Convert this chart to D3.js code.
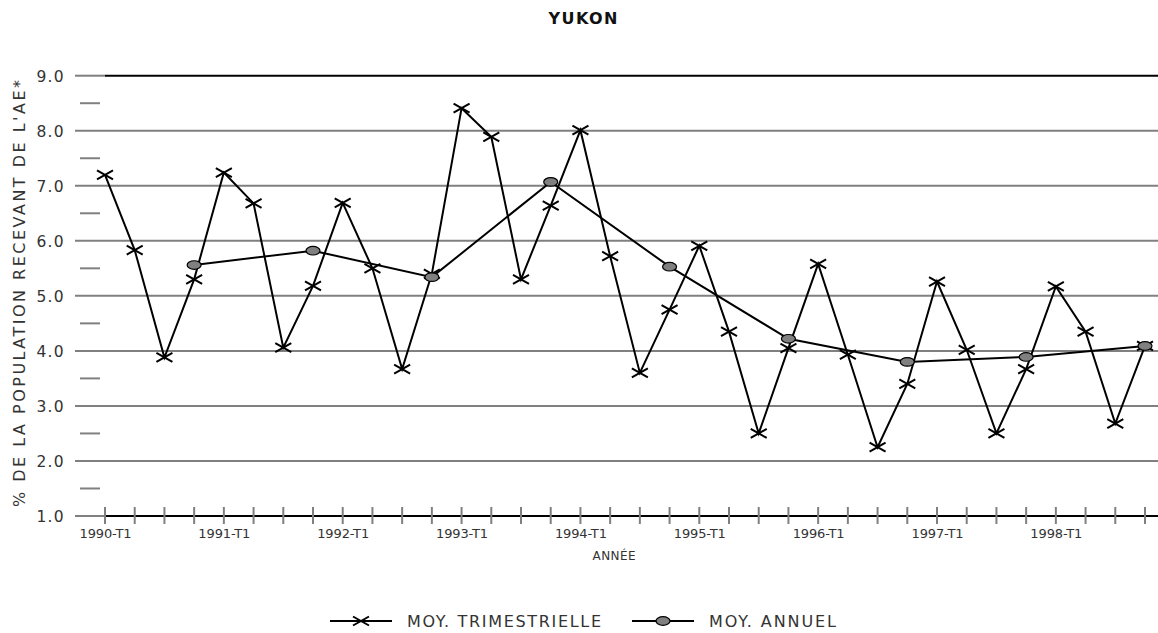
<!DOCTYPE html>
<html>
<head>
<meta charset="utf-8">
<script src="https://cdn.jsdelivr.net/npm/d3@7"></script>
<style>
  body { margin: 0; background: #fff; }
  svg text { font-family: "DejaVu Sans", Verdana, sans-serif; fill: #333; }
</style>
</head>
<body>
<script>
// data
const years = [1990, 1991, 1992, 1993, 1994, 1995, 1996, 1997, 1998]
const quarterNames = ["T1", "T2", "T3", "T4"]
const quarterly = [
  7.20, 5.83, 3.88, 5.30,
  7.24, 6.68, 4.06, 5.18,
  6.69, 5.50, 3.67, 5.40,
  8.41, 7.89, 5.30, 6.64,
  8.01, 5.72, 3.60, 4.75,
  5.91, 4.35, 2.50, 4.05,
  5.58, 3.93, 2.25, 3.40,
  5.26, 4.02, 2.50, 3.67,
  5.17, 4.35, 2.68, 4.09
]
const annual = [5.56, 5.82, 5.34, 7.07, 5.53, 4.22, 3.80, 3.89, 4.09]
const majorTicks = [1, 2, 3, 4, 5, 6, 7, 8, 9]
const minorTicks = [1.5, 2.5, 3.5, 4.5, 5.5, 6.5, 7.5, 8.5]
const legendLabels = ["MOY. TRIMESTRIELLE", "MOY. ANNUEL"]

const quarters = years.flatMap(yr => quarterNames.map(q => yr + "-" + q))

const width = 1158, height = 633
const left = 105, right = 1145, axisStart = 75, gridEnd = 1158

const svg = d3.select("body").append("svg")
  .attr("width", width)
  .attr("height", height)

const x = d3.scalePoint().domain(quarters).range([left, right])
const y = d3.scaleLinear().domain([1, 9]).range([516, 75.7])

// title
svg.append("text")
  .attr("x", 583).attr("y", 24)
  .attr("text-anchor", "middle")
  .attr("textLength", 69).attr("lengthAdjust", "spacing")
  .style("font-size", "16px")
  .style("font-weight", "bold")
  .style("fill", "#111")
  .text("YUKON")

// gridlines
svg.append("g").selectAll("line")
  .data(majorTicks.filter(d => d > 1 && d < 9))
  .enter().append("line")
  .attr("x1", axisStart).attr("x2", gridEnd)
  .attr("y1", d => y(d)).attr("y2", d => y(d))
  .attr("stroke", "#808080").attr("stroke-width", 2)

// short gray stubs for the top and bottom lines
svg.append("g").selectAll("line")
  .data([1, 9])
  .enter().append("line")
  .attr("x1", axisStart).attr("x2", left)
  .attr("y1", d => y(d)).attr("y2", d => y(d))
  .attr("stroke", "#808080").attr("stroke-width", 2)

// minor dashes
svg.append("g").selectAll("line")
  .data(minorTicks)
  .enter().append("line")
  .attr("x1", 80).attr("x2", 100)
  .attr("y1", d => y(d)).attr("y2", d => y(d))
  .attr("stroke", "#808080").attr("stroke-width", 2)

// black top and bottom lines
svg.append("g").selectAll("line")
  .data([1, 9])
  .enter().append("line")
  .attr("x1", left).attr("x2", gridEnd)
  .attr("y1", d => y(d)).attr("y2", d => y(d))
  .attr("stroke", "#000").attr("stroke-width", 2)

// x tick marks
svg.append("g").selectAll("line")
  .data(quarters)
  .enter().append("line")
  .attr("x1", d => x(d)).attr("x2", d => x(d))
  .attr("y1", y(1) - 9).attr("y2", y(1) + 8)
  .attr("stroke", "#808080").attr("stroke-width", 2)

// y axis labels
const yAxis = svg.append("g")
  .attr("transform", `translate(63.5,0)`)
  .call(d3.axisLeft(y).tickValues(majorTicks).tickFormat(d3.format(".1f")).tickSize(0).tickPadding(0))
yAxis.select(".domain").remove()
yAxis.selectAll("text")
  .attr("textLength", 27).attr("lengthAdjust", "spacing")
  .style("font-size", "15.5px")
  .style("fill", "#333")
  .attr("dy", "0.36em")

// x axis labels (T1 only)
const xAxis = svg.append("g")
  .attr("transform", `translate(0,${y(1)})`)
  .call(d3.axisBottom(x).tickValues(quarters.filter(q => q.endsWith("T1"))).tickSize(0).tickPadding(13))
xAxis.select(".domain").remove()
xAxis.selectAll("text")
  .attr("textLength", 52).attr("lengthAdjust", "spacing")
  .style("font-size", "13px")
  .style("fill", "#333")

svg.append("text")
  .attr("x", 614).attr("y", 560)
  .attr("text-anchor", "middle")
  .attr("textLength", 43).attr("lengthAdjust", "spacing")
  .style("font-size", "12px")
  .text("ANNÉE")

svg.append("text")
  .attr("transform", `translate(24.5,293.5) rotate(-90)`)
  .attr("text-anchor", "middle")
  .attr("textLength", 427).attr("lengthAdjust", "spacing")
  .style("font-size", "16px")
  .text("% DE LA POPULATION RECEVANT DE L'AE*")

// lines
const line = d3.line().x(d => d[0]).y(d => d[1])

const qPts = quarterly.map((v, i) => [x(quarters[i]), y(v)])
const aPts = annual.map((v, i) => [x(years[i] + "-T4"), y(v)])

svg.append("path")
  .attr("d", line(qPts))
  .attr("fill", "none").attr("stroke", "#000").attr("stroke-width", 2)

svg.append("path")
  .attr("d", line(aPts))
  .attr("fill", "none").attr("stroke", "#000").attr("stroke-width", 2)

function cross(g, cx, cy) {
  g.append("path")
    .attr("d", `M${cx - 8},${cy - 4.5}L${cx + 8},${cy + 4.5}M${cx - 8},${cy + 4.5}L${cx + 8},${cy - 4.5}`)
    .attr("stroke", "#000").attr("stroke-width", 2).attr("fill", "none")
}

const crosses = svg.append("g")
qPts.forEach(p => cross(crosses, p[0], p[1]))

svg.append("g").selectAll("ellipse")
  .data(aPts)
  .enter().append("ellipse")
  .attr("cx", d => d[0]).attr("cy", d => d[1])
  .attr("rx", 7).attr("ry", 4.3)
  .attr("fill", "#808080").attr("stroke", "#000").attr("stroke-width", 1.2)

// legend
const legend = svg.append("g")
legend.append("line").attr("x1", 330).attr("x2", 392).attr("y1", 621).attr("y2", 621)
  .attr("stroke", "#000").attr("stroke-width", 2)
cross(legend, 361, 621)
legend.append("text").attr("x", 407).attr("y", 626.5)
  .attr("textLength", 194).attr("lengthAdjust", "spacing")
  .style("font-size", "16px")
  .text(legendLabels[0])

legend.append("line").attr("x1", 632).attr("x2", 694).attr("y1", 621).attr("y2", 621)
  .attr("stroke", "#000").attr("stroke-width", 2)
legend.append("ellipse").attr("cx", 663).attr("cy", 621).attr("rx", 7).attr("ry", 4.3)
  .attr("fill", "#808080").attr("stroke", "#000").attr("stroke-width", 1.2)
legend.append("text").attr("x", 709).attr("y", 626.5)
  .attr("textLength", 127).attr("lengthAdjust", "spacing")
  .style("font-size", "16px")
  .text(legendLabels[1])
</script>
</body>
</html>
